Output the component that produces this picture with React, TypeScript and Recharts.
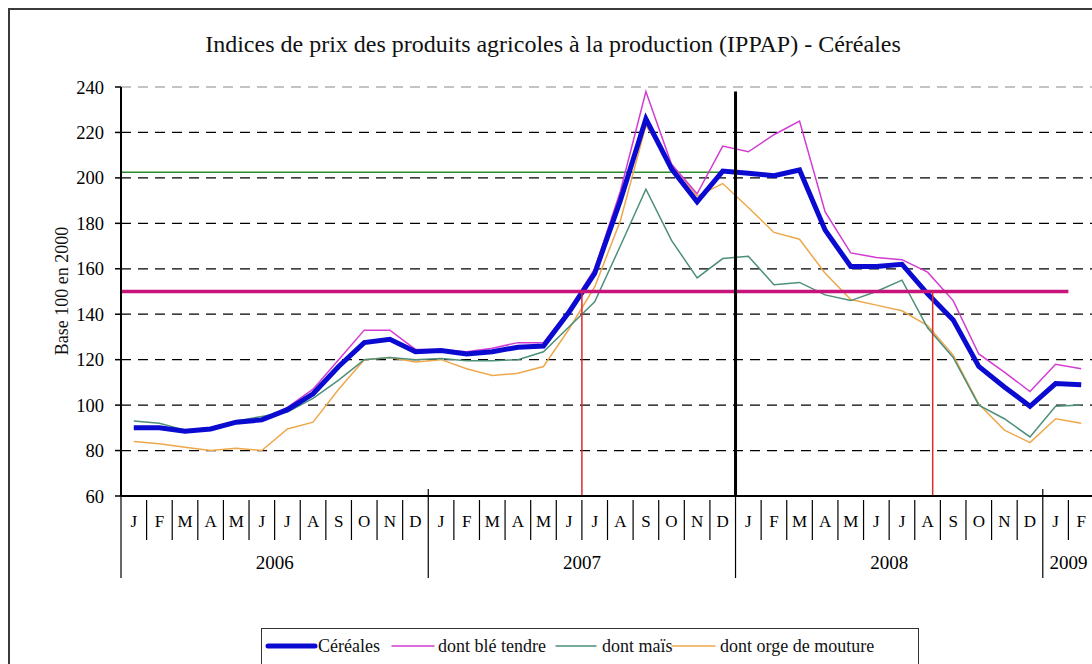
import React from 'react';
import { LineChart, Line, XAxis, YAxis, ReferenceLine } from 'recharts';

const monthLetters = [
  'J', 'F', 'M', 'A', 'M', 'J', 'J', 'A', 'S', 'O', 'N', 'D',
  'J', 'F', 'M', 'A', 'M', 'J', 'J', 'A', 'S', 'O', 'N', 'D',
  'J', 'F', 'M', 'A', 'M', 'J', 'J', 'A', 'S', 'O', 'N', 'D',
  'J', 'F',
];
const years = ['2006', '2007', '2008', '2009'];
const yTicks = [60, 80, 100, 120, 140, 160, 180, 200, 220, 240];

// indices, base 100 en 2000 (janv. 2006 -> févr. 2009)
const cereales = [
  90, 90, 88.5, 89.5, 92.5, 93.5, 98, 105, 117, 127.5, 129, 123.5,
  124, 122.5, 123.5, 125.5, 126, 141, 158, 190, 226, 204, 189.5, 203,
  202, 201, 203.5, 177, 161, 161, 162, 149, 137.5, 117, 108, 99.5,
  109.5, 109,
];
const bleTendre = [
  90, 90, 88.5, 89.5, 92.5, 93.5, 99, 107, 120, 133, 133, 124.5,
  124.5, 123.5, 125, 127.5, 127.5, 142, 160, 194, 238, 206, 193, 214,
  211.5, 219, 225, 185, 167, 165, 164, 158.5, 146, 122.5, 114.5, 106,
  118, 116,
];
const mais = [
  93, 92, 89, 90, 93, 95, 97, 103, 111, 120, 121, 120,
  120.5, 119.5, 119.5, 120, 123.5, 134.5, 145.5, 170, 195, 172.5, 156, 164.5,
  165.5, 153, 154, 148.5, 146, 150, 155, 134, 121, 100, 94, 86,
  99.5, 100,
];
const orge = [
  84, 83, 81.5, 80, 81, 80, 89.5, 92.5, 107, 120, 121, 119,
  120, 116, 113, 114, 117, 133.5, 152, 181, 223, 206, 192, 197.5,
  187, 176, 173, 158, 146.5, 144, 141.5, 135, 122, 100.5, 89, 83.5,
  94, 92,
];

// repères
const seuil = 150;
const niveauDebut2008 = 202.5;
const debut2008 = 24;
const franchissementHausse = 18;
const franchissementBaisse = 31.7;

const data = monthLetters.map((m, i) => ({
  x: i + 0.5,
  cereales: cereales[i],
  ble: bleTendre[i],
  mais: mais[i],
  orge: orge[i],
}));

const CHART_W = 1100;
const CHART_H = 664;
const Y_W = 121;
const MARGIN = { top: 87, right: 6, bottom: 78, left: 0 };
const MONTH_PX = (CHART_W - MARGIN.right - Y_W - MARGIN.left) / monthLetters.length;
const FONT = 'Liberation Serif';

const series = [
  { key: 'orge', name: 'dont orge de mouture', color: '#eea84c', width: 1.5 },
  { key: 'mais', name: 'dont maïs', color: '#4d8f78', width: 1.5 },
  { key: 'ble', name: 'dont blé tendre', color: '#d23cd2', width: 1.5 },
  { key: 'cereales', name: 'Céréales', color: '#0a0ad0', width: 5 },
];

// legend layout: [sample start, sample end, text start]
const legendSlots: Record<string, number[]> = {
  cereales: [268, 315, 318],
  ble: [392, 434, 438],
  mais: [556, 596, 602],
  orge: [672, 715, 720],
};
const legendOrder = ['cereales', 'ble', 'mais', 'orge'];

const MonthTick = (props: any) => {
  const { x, y, payload } = props;
  const i = Math.round(payload.value);
  const isYear = i % 12 === 0;
  const span = Math.min(12, monthLetters.length - i);
  return (
    <g>
      <line
        x1={x}
        x2={x}
        y1={isYear ? y - 7 : y + 4}
        y2={isYear ? y + 82 : y + 44}
        stroke="#000"
        strokeWidth={1.2}
      />
      <text x={x + MONTH_PX / 2} y={y + 31} textAnchor="middle" style={{ fontFamily: FONT }} fontSize={17} fill="#000">
        {monthLetters[i]}
      </text>
      {isYear && (
        <text x={x + (span * MONTH_PX) / 2} y={y + 73} textAnchor="middle" style={{ fontFamily: FONT }} fontSize={19} fill="#000">
          {years[i / 12]}
        </text>
      )}
    </g>
  );
};

export default function App() {
  return (
    <div style={{ position: 'absolute', left: 0, top: 0, width: 1092, height: 664, overflow: 'hidden', background: '#fff', fontFamily: FONT }}>
      <div
        style={{
          position: 'absolute',
          left: 8,
          top: 8,
          width: 1120,
          height: 700,
          borderTop: '2px solid #3a3a3a',
          borderLeft: '2px solid #3a3a3a',
        }}
      />
      <div
        style={{
          position: 'absolute',
          left: 0,
          width: 1106,
          top: 31,
          textAlign: 'center',
          fontSize: 24,
          color: '#111',
        }}
      >
        Indices de prix des produits agricoles à la production (IPPAP) - Céréales
      </div>
      <div
        style={{
          position: 'absolute',
          left: 62,
          top: 291,
          transform: 'translate(-50%, -50%) rotate(-90deg)',
          fontSize: 18,
          whiteSpace: 'nowrap',
          color: '#111',
        }}
      >
        Base 100 en 2000
      </div>
      <div style={{ position: 'absolute', left: 0, top: 0 }}>
        <LineChart width={CHART_W} height={CHART_H} data={data} margin={MARGIN} style={{ fontFamily: FONT }}>
          <XAxis
            type="number"
            dataKey="x"
            domain={[0, monthLetters.length]}
            ticks={monthLetters.map((_, i) => i)}
            interval={0}
            height={90}
            tickSize={0}
            tickMargin={0}
            tickLine={false}
            axisLine={{ stroke: '#000', strokeWidth: 2 }}
            tick={<MonthTick />}
          />
          <YAxis
            type="number"
            domain={[60, 240]}
            ticks={yTicks}
            interval={0}
            width={Y_W}
            tickSize={6}
            tickMargin={11}
            axisLine={{ stroke: '#000', strokeWidth: 2 }}
            tickLine={{ stroke: '#000', strokeWidth: 1.5 }}
            tick={{ fontSize: 18.5, fill: '#000', style: { fontFamily: FONT } }}
          />
          {yTicks
            .filter((v) => v > 60)
            .map((v) => (
              <ReferenceLine
                key={v}
                y={v}
                stroke={v === 240 ? '#8a8a8a' : '#000'}
                strokeDasharray="10 7"
                strokeWidth={1.2}
              />
            ))}
          <ReferenceLine
            segment={[{ x: 0, y: niveauDebut2008 }, { x: debut2008, y: niveauDebut2008 }]}
            stroke="#2a8a2a"
            strokeWidth={1.5}
          />
          {series.map((s) => (
            <Line
              key={s.key}
              type="linear"
              dataKey={s.key}
              name={s.name}
              stroke={s.color}
              strokeWidth={s.width}
              dot={false}
              activeDot={false}
              isAnimationActive={false}
            />
          ))}
          <ReferenceLine
            segment={[{ x: 0, y: seuil }, { x: 37, y: seuil }]}
            stroke="#c8147a"
            strokeWidth={3.5}
          />
          <ReferenceLine
            segment={[{ x: franchissementHausse, y: 60 }, { x: franchissementHausse, y: seuil }]}
            stroke="#dd2a2a"
            strokeWidth={1.5}
          />
          <ReferenceLine
            segment={[{ x: franchissementBaisse, y: 60 }, { x: franchissementBaisse, y: seuil }]}
            stroke="#dd2a2a"
            strokeWidth={1.5}
          />
          <ReferenceLine
            segment={[{ x: debut2008, y: 60 }, { x: debut2008, y: 238 }]}
            stroke="#000"
            strokeWidth={3}
          />
        </LineChart>
      </div>
      <div
        style={{
          position: 'absolute',
          left: 261,
          top: 628,
          width: 658,
          height: 40,
          border: '1.5px solid #333',
          boxSizing: 'border-box',
        }}
      />
      <svg width={1092} height={664} style={{ position: 'absolute', left: 0, top: 0, pointerEvents: 'none' }}>
        {legendOrder.map((k) => {
          const s = series.find((d) => d.key === k)!;
          const [x1, x2, tx] = legendSlots[k];
          return (
            <g key={k}>
              <line x1={x1} x2={x2} y1={646} y2={646} stroke={s.color} strokeWidth={s.width} strokeLinecap="round" />
              <text x={tx} y={652} style={{ fontFamily: FONT }} fontSize={18} fill="#111">
                {s.name}
              </text>
            </g>
          );
        })}
      </svg>
    </div>
  );
}
